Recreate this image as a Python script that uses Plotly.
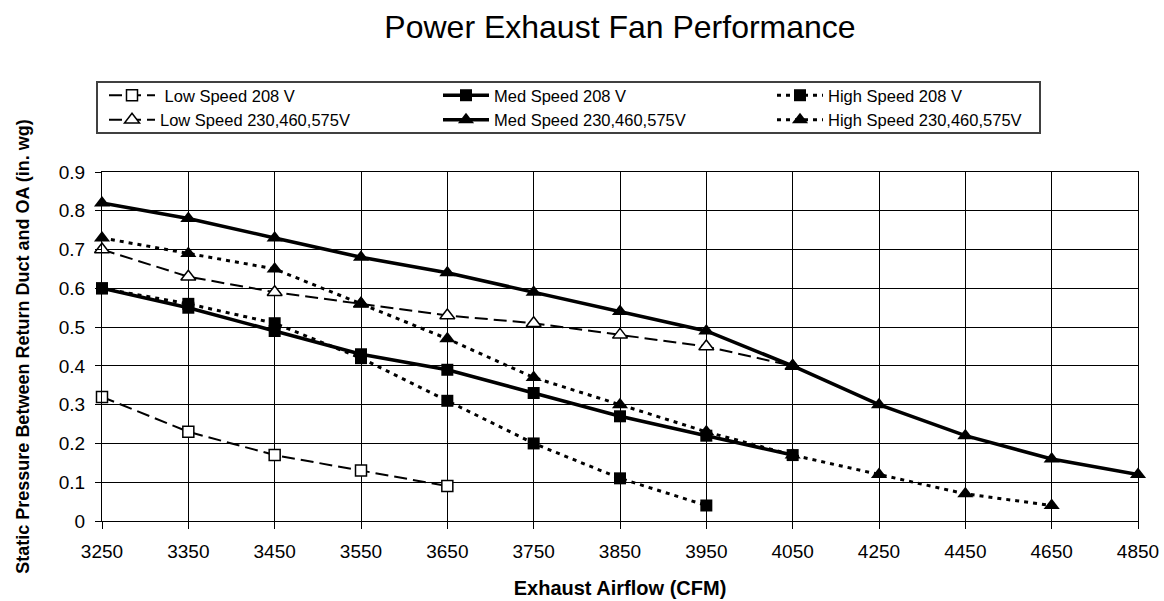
import plotly.graph_objects as go

# Exhaust airflow categories (CFM)
airflow = ["3250", "3350", "3450", "3550", "3650", "3750", "3850", "3950",
           "4050", "4250", "4450", "4650", "4850"]

# Static pressure (in. wg) per fan speed / voltage
low_208 = [0.32, 0.23, 0.17, 0.13, 0.09]
med_208 = [0.60, 0.55, 0.49, 0.43, 0.39, 0.33, 0.27, 0.22, 0.17]
high_208 = [0.60, 0.56, 0.51, 0.42, 0.31, 0.20, 0.11, 0.04]
low_230 = [0.70, 0.63, 0.59, 0.56, 0.53, 0.51, 0.48, 0.45, 0.40]
med_230 = [0.82, 0.78, 0.73, 0.68, 0.64, 0.59, 0.54, 0.49, 0.40, 0.30, 0.22, 0.16, 0.12]
high_230 = [0.73, 0.69, 0.65, 0.56, 0.47, 0.37, 0.30, 0.23, 0.17, 0.12, 0.07, 0.04]

y_ticks = [0, 0.1, 0.2, 0.3, 0.4, 0.5, 0.6, 0.7, 0.8, 0.9]

FONT = "Liberation Sans, Arial, sans-serif"

DASHED = dict(color="black", width=2, dash="13px,6px")
SOLID = dict(color="black", width=3.5)
DOTTED = dict(color="black", width=3, dash="4px,5px")

series = [
    ("\u00a0Low Speed 208 V", low_208, DASHED,
     dict(symbol="square", size=11, color="white", line=dict(color="black", width=1.5))),
    ("Med Speed 208 V", med_208, SOLID,
     dict(symbol="square", size=12, color="black")),
    ("High Speed 208 V", high_208, DOTTED,
     dict(symbol="square", size=12, color="black")),
    ("Low Speed 230,460,575V", low_230, DASHED,
     dict(symbol="triangle-up", size=13, color="white", line=dict(color="black", width=1.5))),
    ("Med Speed 230,460,575V", med_230, SOLID,
     dict(symbol="triangle-up", size=14, color="black")),
    ("High Speed 230,460,575V", high_230, DOTTED,
     dict(symbol="triangle-up", size=14, color="black")),
]

fig = go.Figure()
for name, vals, line, marker in series:
    fig.add_trace(go.Scatter(
        x=airflow[:len(vals)], y=vals, name=name, mode="lines+markers",
        line=line, marker=marker, cliponaxis=False,
    ))

# plot area in pixels: x 102..1138, y 172..521
PL, PR, PT, PB = 102, 1138, 172, 521
def px_x(v):
    return (v - PL) / (PR - PL)
def px_y(v):
    return (PB - v) / (PB - PT)

fig.update_layout(
    width=1164, height=601,
    margin=dict(l=PL, r=1164 - PR, t=PT, b=601 - PB, autoexpand=False),
    paper_bgcolor="white", plot_bgcolor="white",
    font=dict(family=FONT, color="black"),
    title=dict(text="Power Exhaust Fan Performance", x=0.5, xref="paper",
               xanchor="center", y=1 - 27 / 601, yanchor="middle",
               font=dict(size=32, family=FONT, color="black")),
    legend=dict(
        orientation="h", x=px_x(104), xanchor="left", y=px_y(78), yanchor="top",
        bgcolor="rgba(0,0,0,0)", borderwidth=0,
        font=dict(size=16.5, family=FONT, color="black"),
        itemwidth=46, entrywidth=273, entrywidthmode="pixels",
        traceorder="normal",
    ),
    shapes=[dict(
        type="rect", xref="paper", yref="paper",
        x0=px_x(97), x1=px_x(1040), y0=px_y(133), y1=px_y(82),
        line=dict(color="#404040", width=2), fillcolor="rgba(0,0,0,0)",
    )],
    showlegend=True,
)

fig.update_xaxes(
    type="category", categoryorder="array", categoryarray=airflow,
    range=[0, len(airflow) - 1], automargin=False,
    showgrid=True, gridcolor="black", gridwidth=1,
    showline=True, linecolor="black", linewidth=1, mirror=True,
    ticks="outside", ticklen=7, tickcolor="black", ticklabelstandoff=6,
    tickfont=dict(size=19, family=FONT, color="black"),
    title=dict(text="<b>Exhaust Airflow (CFM)</b>", standoff=20,
               font=dict(size=20, family=FONT, color="black")),
    zeroline=False,
)

fig.update_yaxes(
    range=[0, 0.9], tickvals=y_ticks, ticktext=[f"{v:g}" for v in y_ticks],
    automargin=False,
    showgrid=True, gridcolor="black", gridwidth=1,
    showline=True, linecolor="black", linewidth=1, mirror=True,
    ticks="outside", ticklen=6, tickcolor="black", ticklabelstandoff=6,
    tickfont=dict(size=19, family=FONT, color="black"),
    title=dict(text="<b>Static Pressure Between Return Duct and OA (in. wg)</b>",
               standoff=24, font=dict(size=18, family=FONT, color="black")),
    zeroline=False,
)

fig.write_html("out.html")
